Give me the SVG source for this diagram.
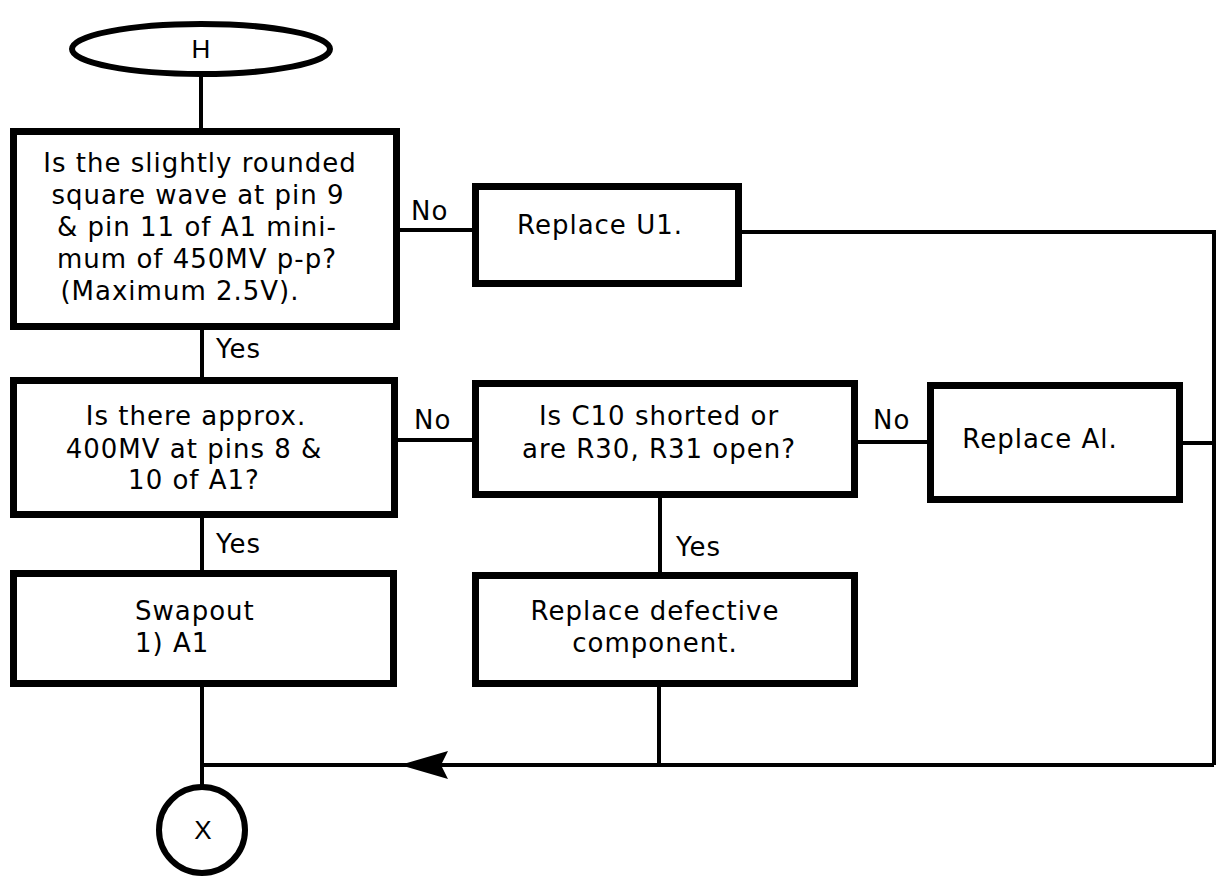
<svg xmlns="http://www.w3.org/2000/svg" width="1218" height="879" viewBox="0 0 1218 879">
<style>
.box{fill:#fff;stroke:#000;stroke-width:7}
.term{fill:#fff;stroke:#000;stroke-width:6}
.conn{fill:none;stroke:#000;stroke-width:4}
text{font-family:"DejaVu Sans",sans-serif;font-size:26px;fill:#000;letter-spacing:1px}
.c{text-anchor:middle}
.lbl{font-family:"Liberation Sans",sans-serif;font-size:26px;letter-spacing:0}
</style>
<rect width="1218" height="879" fill="#fff"/>
<g id="connectors">
<path class="conn" d="M201 75V128"/>
<path class="conn" d="M400 230H472"/>
<path class="conn" d="M742 232H1214V765"/>
<path class="conn" d="M202 328V377"/>
<path class="conn" d="M398 440H472"/>
<path class="conn" d="M858 442H927"/>
<path class="conn" d="M1183 443H1214"/>
<path class="conn" d="M660 498V572"/>
<path class="conn" d="M202 518V570"/>
<path class="conn" d="M659 687V765"/>
<path class="conn" d="M1214 765H202"/>
<path class="conn" d="M202 687V786"/>
<path d="M400 765L448 751L441 765L448 779Z" fill="#000"/>
<text x="411" y="220">No</text>
<text x="216" y="358">Yes</text>
<text x="414" y="429">No</text>
<text x="873" y="429">No</text>
<text x="216" y="553">Yes</text>
<text x="676" y="556">Yes</text>
</g>
<g id="start">
<ellipse class="term" cx="201" cy="49" rx="129" ry="25"/>
<text class="c lbl" x="201" y="58">H</text>
</g>
<g id="q1">
<rect class="box" x="13.5" y="131.5" width="383" height="195"/>
<text class="c" x="200" y="172">Is the slightly rounded</text>
<text class="c" x="198" y="204">square wave at pin 9</text>
<text class="c" x="197" y="236">&amp; pin 11 of A1 mini-</text>
<text class="c" x="197" y="268">mum of 450MV p-p?</text>
<text class="c" x="180" y="300">(Maximum 2.5V).</text>
</g>
<g id="replaceU1">
<rect class="box" x="475.5" y="186.5" width="263" height="97"/>
<text class="c" x="600" y="234">Replace U1.</text>
</g>
<g id="q2">
<rect class="box" x="13.5" y="380.5" width="381" height="134"/>
<text class="c" x="196" y="425">Is there approx.</text>
<text class="c" x="194" y="458">400MV at pins 8 &amp;</text>
<text class="c" x="194" y="489">10 of A1?</text>
</g>
<g id="q3">
<rect class="box" x="475.5" y="383.5" width="379" height="111"/>
<text class="c" x="659" y="425">Is C10 shorted or</text>
<text class="c" x="659" y="458">are R30, R31 open?</text>
</g>
<g id="replaceA1">
<rect class="box" x="930.5" y="385.5" width="249" height="114"/>
<text class="c" x="1040" y="448">Replace Al.</text>
</g>
<g id="swapout">
<rect class="box" x="13.5" y="573.5" width="380" height="110"/>
<text x="135" y="620">Swapout</text>
<text x="135" y="652">1) A1</text>
</g>
<g id="replaceDefective">
<rect class="box" x="475.5" y="575.5" width="379" height="108"/>
<text class="c" x="655" y="620">Replace defective</text>
<text class="c" x="655" y="652">component.</text>
</g>
<g id="end">
<circle class="term" cx="202" cy="830" r="43" stroke-width="7"/>
<text class="c lbl" x="203" y="839">X</text>
</g>
</svg>
